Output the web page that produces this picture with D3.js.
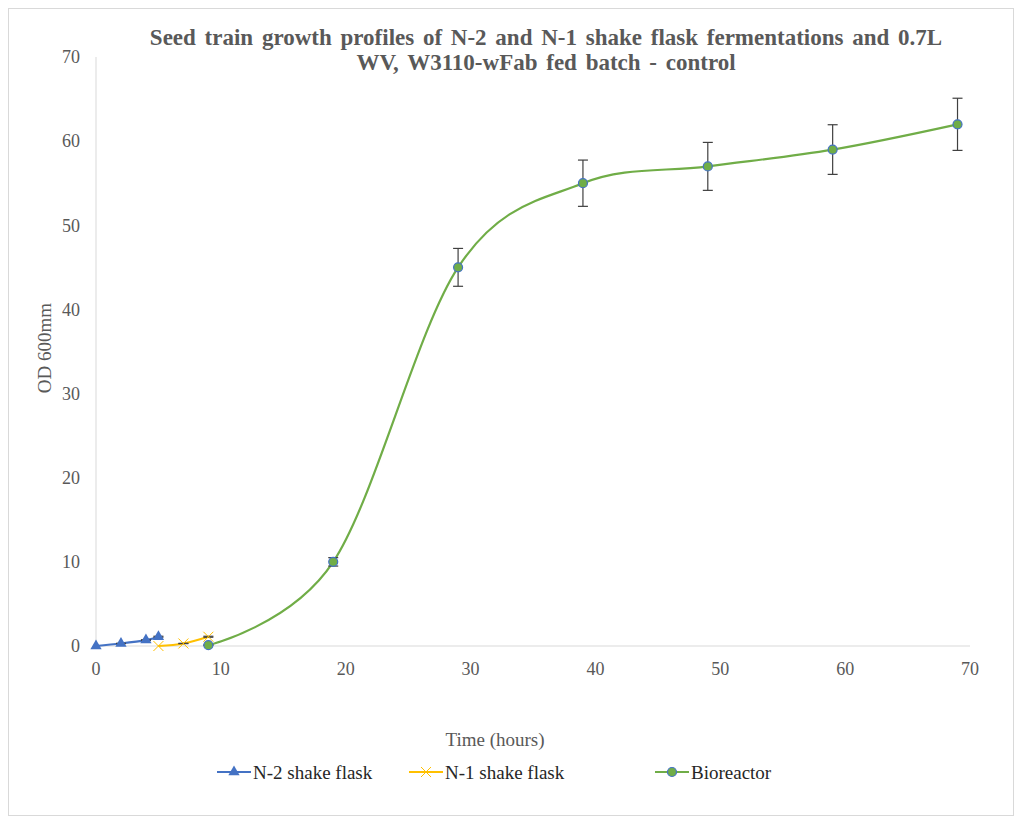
<!DOCTYPE html>
<html>
<head>
<meta charset="utf-8">
<title>Seed train growth profiles</title>
<script src="https://d3js.org/d3.v7.min.js"></script>
<style>
  body { margin: 0; background: #fff; }
  text { font-family: "Liberation Serif", "Times New Roman", serif; fill: #595959; }
</style>
</head>
<body>
<script>
// data
var n2Hours = [0, 2, 4, 5];
var n2OD = [0, 0.3, 0.7, 1.1];
var n2Err = [0, 0.02, 0.04, 0.06];

var n1Hours = [5, 7, 9];
var n1OD = [0, 0.3, 1.1];
var n1Err = [0, 0.02, 0.06];

var bioHours = [9, 19, 29, 39, 49, 59, 69];
var bioOD = [0.1, 10, 45, 55, 57, 59, 62];
var bioErr = [0.01, 0.5, 2.25, 2.75, 2.85, 2.95, 3.1];

var xTicks = [0, 10, 20, 30, 40, 50, 60, 70];
var yTicks = [0, 10, 20, 30, 40, 50, 60, 70];

var titleLines = ["Seed train growth profiles of N-2 and N-1 shake flask fermentations and 0.7L",
                  "WV, W3110-wFab fed batch - control"];

var W = 1014, H = 816;
var svg = d3.select("body").append("svg")
    .attr("width", W)
    .attr("height", H);

// chart frame
svg.append("rect")
    .attr("x", 8.5).attr("y", 8.5)
    .attr("width", W - 9).attr("height", H - 9)
    .attr("fill", "#fff")
    .attr("stroke", "#d9d9d9");

var x = d3.scaleLinear().domain([0, 70]).range([96, 970]);
var y = d3.scaleLinear().domain([0, 70]).range([646, 57]);

// axes lines
svg.append("line")
    .attr("x1", x(0)).attr("x2", x(0))
    .attr("y1", y(70)).attr("y2", y(0))
    .attr("stroke", "#d9d9d9");
svg.append("line")
    .attr("x1", x(0)).attr("x2", x(70))
    .attr("y1", y(0)).attr("y2", y(0))
    .attr("stroke", "#d9d9d9");

svg.selectAll(".ytick")
    .data(yTicks)
    .join("text")
    .attr("class", "ytick")
    .attr("x", x(0) - 16)
    .attr("y", d => y(d))
    .attr("dy", "0.35em")
    .attr("text-anchor", "end")
    .style("font-size", "18px")
    .text(d => d);

svg.selectAll(".xtick")
    .data(xTicks)
    .join("text")
    .attr("class", "xtick")
    .attr("x", d => x(d))
    .attr("y", y(0) + 29)
    .attr("text-anchor", "middle")
    .style("font-size", "18px")
    .text(d => d);

// titles
svg.selectAll(".title")
    .data(titleLines)
    .join("text")
    .attr("class", "title")
    .attr("x", 546)
    .attr("y", (d, i) => 45 + i * 25)
    .attr("text-anchor", "middle")
    .style("font-size", "23px")
    .style("font-weight", "bold")
    .style("word-spacing", "3px")
    .text(d => d);

svg.append("text")
    .attr("x", 495).attr("y", 746)
    .attr("text-anchor", "middle")
    .style("font-size", "19px")
    .text("Time (hours)");

svg.append("text")
    .attr("transform", "translate(51,348) rotate(-90)")
    .attr("text-anchor", "middle")
    .style("font-size", "19px")
    .text("OD 600mm");

function toPoints(hs, vs, es) {
    return hs.map((h, i) => ({x: h, y: vs[i], e: es[i]}));
}

var series = [
    {name: "N-2 shake flask", pts: toPoints(n2Hours, n2OD, n2Err), color: "#4472C4", marker: "triangle"},
    {name: "N-1 shake flask", pts: toPoints(n1Hours, n1OD, n1Err), color: "#FFC000", marker: "cross"},
    {name: "Bioreactor", pts: toPoints(bioHours, bioOD, bioErr), color: "#70AD47", marker: "circle"}
];

var line = d3.line()
    .x(d => x(d.x))
    .y(d => y(d.y))
    .curve(d3.curveCardinal.tension(0));

function drawMarker(g, type, color) {
    if (type == "triangle") {
        g.append("path")
            .attr("d", d3.symbol().type(d3.symbolTriangle).size(55)())
            .attr("fill", color);
    } else if (type == "cross") {
        g.append("path")
            .attr("d", "M-5,-5L5,5M-5,5L5,-5")
            .attr("stroke", color)
            .attr("stroke-width", 1);
    } else {
        g.append("circle")
            .attr("r", 4.5)
            .attr("fill", "#70AD47")
            .attr("stroke", "#4472C4")
            .attr("stroke-width", 1.2);
    }
}

series.forEach(function(s) {
    svg.append("path")
        .datum(s.pts)
        .attr("d", line)
        .attr("fill", "none")
        .attr("stroke", s.color)
        .attr("stroke-width", 2.2);

    // error bars
    var eb = svg.append("g").selectAll("g")
        .data(s.pts.filter(d => d.e > 0))
        .join("g");
    eb.append("line")
        .attr("x1", d => x(d.x)).attr("x2", d => x(d.x))
        .attr("y1", d => y(d.y + d.e)).attr("y2", d => y(d.y - d.e))
        .attr("stroke", "#404040").attr("stroke-width", 1.2);
    eb.append("line")
        .attr("x1", d => x(d.x) - 5).attr("x2", d => x(d.x) + 5)
        .attr("y1", d => y(d.y + d.e)).attr("y2", d => y(d.y + d.e))
        .attr("stroke", "#404040").attr("stroke-width", 1.2);
    eb.append("line")
        .attr("x1", d => x(d.x) - 5).attr("x2", d => x(d.x) + 5)
        .attr("y1", d => y(d.y - d.e)).attr("y2", d => y(d.y - d.e))
        .attr("stroke", "#404040").attr("stroke-width", 1.2);

    svg.append("g").selectAll("g")
        .data(s.pts)
        .join("g")
        .attr("transform", d => `translate(${x(d.x)},${y(d.y)})`)
        .each(function() { drawMarker(d3.select(this), s.marker, s.color); });
});

// legend
var legendX = [217, 409, 655];
var legend = svg.selectAll(".legend")
    .data(series)
    .join("g")
    .attr("class", "legend")
    .attr("transform", (d, i) => `translate(${legendX[i]},772)`);

legend.append("line")
    .attr("x1", 0).attr("x2", 34)
    .attr("stroke", d => d.color)
    .attr("stroke-width", 2.2);
legend.append("g")
    .attr("transform", "translate(17,0)")
    .each(function(d) { drawMarker(d3.select(this), d.marker, d.color); });
legend.append("text")
    .attr("x", 36)
    .attr("dy", "0.35em")
    .style("font-size", "19px")
    .style("fill", "#262626")
    .text(d => d.name);
</script>
</body>
</html>
